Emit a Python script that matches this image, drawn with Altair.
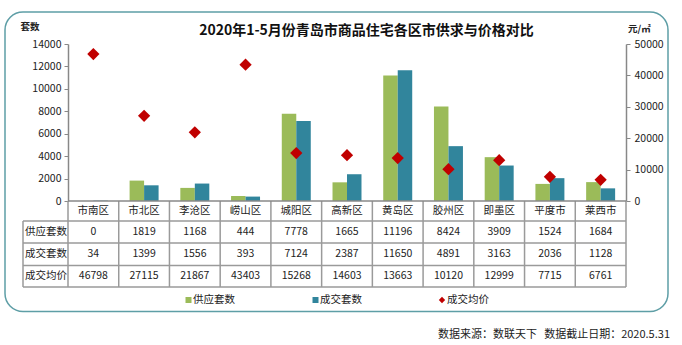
import altair as alt
import pandas as pd

cats = ["市南区", "市北区", "李沧区", "崂山区", "城阳区", "高新区", "黄岛区", "胶州区", "即墨区", "平度市", "莱西市"]
supply = [0, 1819, 1168, 444, 7778, 1665, 11196, 8424, 3909, 1524, 1684]
deals = [34, 1399, 1556, 393, 7124, 2387, 11650, 4891, 3163, 2036, 1128]
price = [46798, 27115, 21867, 43403, 15268, 14603, 13663, 10120, 12999, 7715, 6761]
series = ["供应套数", "成交套数"]
row_labels = ["供应套数", "成交套数", "成交均价"]
left_ticks = [0, 2000, 4000, 6000, 8000, 10000, 12000, 14000]
right_ticks = [0, 10000, 20000, 30000, 40000, 50000]
title_text = "2020年1-5月份青岛市商品住宅各区市供求与价格对比"

FONT = "Noto Sans CJK SC"
GREEN = "#9BBB59"
TEAL = "#31859C"
RED = "#C00000"
GRID = "#9a9a9a"
W, H = 558, 157

bars_df = pd.DataFrame({
    "cat": cats * 2,
    "series": [series[0]] * len(cats) + [series[1]] * len(cats),
    "value": supply + deals,
})
price_df = pd.DataFrame({"cat": cats, "price": price})

xscale = alt.Scale(domain=cats, paddingInner=0, paddingOuter=0)


def X(**kw):
    return alt.X("cat:N", sort=cats, scale=xscale, axis=None, **kw)


one = pd.DataFrame({"a": [0]})

bars = alt.Chart(bars_df).mark_bar().encode(
    x=X(),
    xOffset=alt.XOffset("series:N", sort=series,
                        scale=alt.Scale(domain=series, paddingInner=0, paddingOuter=0.75)),
    y=alt.Y("value:Q", scale=alt.Scale(domain=[0, 14000], nice=False),
            axis=alt.Axis(orient="left", title="", values=left_ticks, format="d", grid=False,
                          tickSize=4, labelPadding=3, domainColor="#888", tickColor="#888",
                          domainWidth=1.5, labelFont=FONT, labelFontSize=10.5,
                          labelColor="#222")),
    color=alt.Color("series:N", scale=alt.Scale(domain=series, range=[GREEN, TEAL]), legend=None),
)

points = alt.Chart(price_df).mark_point(shape="diamond", filled=True, size=150,
                                        color=RED, opacity=1).encode(
    x=X(),
    y=alt.Y("price:Q", scale=alt.Scale(domain=[0, 50000], nice=False),
            axis=alt.Axis(orient="right", title="", values=right_ticks, format="d", grid=False,
                          tickSize=4, labelPadding=4, domainColor="#888", tickColor="#888",
                          domainWidth=1.5, labelFont=FONT, labelFontSize=10.5,
                          labelColor="#222")),
)

layers = [bars, points]

# table texts
cat_df = pd.DataFrame({"cat": cats})
layers.append(alt.Chart(cat_df).mark_text(font=FONT, fontSize=10.5, color="#222",
                                          baseline="middle").encode(
    x=X(), y=alt.value(167), text="cat:N"))
row_ys = [188, 210, 232]
for vals, ry in zip([supply, deals, price], row_ys):
    df = pd.DataFrame({"cat": cats, "v": [str(v) for v in vals]})
    layers.append(alt.Chart(df).mark_text(font=FONT, fontSize=10.5, color="#222",
                                          baseline="middle").encode(
        x=X(), y=alt.value(ry), text="v:N"))
for lbl, ry in zip(row_labels, row_ys):
    layers.append(alt.Chart(one).mark_text(text=lbl, font=FONT, fontSize=10.5, color="#222",
                                           align="left", baseline="middle").encode(
        x=alt.value(-43), y=alt.value(ry)))

# table grid lines
layers.append(alt.Chart(cat_df).mark_rule(color=GRID, strokeWidth=1.5).encode(
    x=X(bandPosition=0), y=alt.value(H), y2=alt.value(243)))
layers.append(alt.Chart(one).mark_rule(color=GRID, strokeWidth=1.5).encode(
    x=alt.value(W), y=alt.value(H), y2=alt.value(243)))
layers.append(alt.Chart(one).mark_rule(color=GRID, strokeWidth=1.5).encode(
    x=alt.value(-45), y=alt.value(177), y2=alt.value(243)))
for hy in [177, 199, 221.5, 243]:
    layers.append(alt.Chart(one).mark_rule(color=GRID, strokeWidth=1.5).encode(
        x=alt.value(-45), x2=alt.value(W), y=alt.value(hy)))
layers.append(alt.Chart(one).mark_rule(color="#888", strokeWidth=1.5).encode(
    x=alt.value(0), x2=alt.value(W), y=alt.value(H)))

# legend
leg = [
    ("square", GREEN, 120.5, 125, series[0], 36),
    ("square", TEAL, 247.5, 252, series[1], 36),
    ("diamond", RED, 374, 379, row_labels[2], 40),
]
for shp, col, sx, tx, lbl, sz in leg:
    layers.append(alt.Chart(one).mark_point(shape=shp, filled=True, size=sz, color=col,
                                            opacity=1).encode(
        x=alt.value(sx), y=alt.value(256)))
    layers.append(alt.Chart(one).mark_text(text=lbl, font=FONT, fontSize=10.5, color="#222",
                                           align="left", baseline="middle").encode(
        x=alt.value(tx), y=alt.value(256)))

# titles & notes
layers.append(alt.Chart(one).mark_text(text=title_text, font=FONT, fontSize=14,
                                       fontWeight="bold", color="#111",
                                       align="center", baseline="middle").encode(
    x=alt.value(298.5), y=alt.value(-13)))
layers.append(alt.Chart(one).mark_text(text="套数", font=FONT, fontSize=9.5,
                                       fontWeight="bold", color="#222",
                                       align="left", baseline="middle").encode(
    x=alt.value(-47.5), y=alt.value(-17)))
layers.append(alt.Chart(one).mark_text(text="元/㎡", font=FONT, fontSize=9.5,
                                       fontWeight="bold", color="#222",
                                       align="left", baseline="middle").encode(
    x=alt.value(560), y=alt.value(-15)))
layers.append(alt.Chart(one).mark_text(text="数据来源：数联天下", font=FONT, fontSize=11,
                                       color="#222", align="left", baseline="middle").encode(
    x=alt.value(370), y=alt.value(291)))
layers.append(alt.Chart(one).mark_text(text="数据截止日期：2020.5.31", font=FONT, fontSize=11,
                                       color="#222", align="right", baseline="middle").encode(
    x=alt.value(602), y=alt.value(291)))

# frame
layers.append(alt.Chart(one).mark_rect(cornerRadius=18, fillOpacity=0, stroke="#5E9EA6",
                                       strokeWidth=1.5).encode(
    x=alt.value(-63), x2=alt.value(600), y=alt.value(-32), y2=alt.value(267.5)))

chart = alt.layer(*layers).resolve_scale(y="independent").properties(
    width=W, height=H,
    padding={"left": 68, "top": 44, "right": 56, "bottom": 144},
    autosize=alt.AutoSizeParams(type="none"),
    background="white",
).configure_view(stroke=None)

chart.save("out.html", embed_options={"renderer": "svg", "actions": False})
